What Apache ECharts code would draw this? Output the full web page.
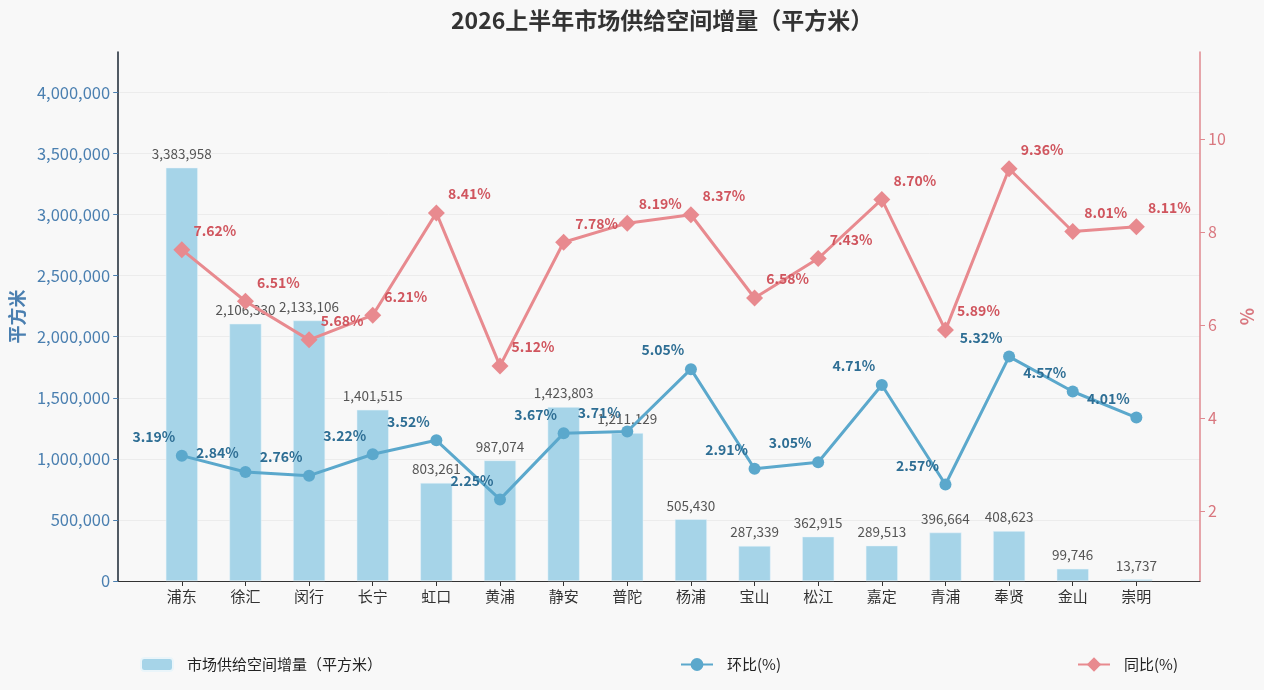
<!DOCTYPE html>
<html>
<head>
<meta charset="utf-8">
<script src="https://cdn.jsdelivr.net/npm/echarts@6/dist/echarts.min.js"></script>
<style>
  html, body { margin: 0; padding: 0; background: #f8f8f8; }
  #main { width: 1264px; height: 690px; }
</style>
</head>
<body>
<div id="main"></div>
<script>
// 区域
var categories = ['浦东', '徐汇', '闵行', '长宁', '虹口', '黄浦', '静安', '普陀',
                  '杨浦', '宝山', '松江', '嘉定', '青浦', '奉贤', '金山', '崇明'];
// 市场供给空间增量（平方米）
var supply = [3383958, 2106330, 2133106, 1401515, 803261, 987074, 1423803, 1211129,
              505430, 287339, 362915, 289513, 396664, 408623, 99746, 13737];
// 环比(%)
var mom = [3.19, 2.84, 2.76, 3.22, 3.52, 2.25, 3.67, 3.71,
           5.05, 2.91, 3.05, 4.71, 2.57, 5.32, 4.57, 4.01];
// 同比(%)
var yoy = [7.62, 6.51, 5.68, 6.21, 8.41, 5.12, 7.78, 8.19,
           8.37, 6.58, 7.43, 8.70, 5.89, 9.36, 8.01, 8.11];
// 刻度
var leftTicks = [0, 500000, 1000000, 1500000, 2000000, 2500000, 3000000, 3500000, 4000000];
var rightTicks = [2, 4, 6, 8, 10];

var FONT = 'Noto Sans CJK SC';

// 两端各留一个空位
function pad(arr) { return [null].concat(arr, [null]); }
var xData = [''].concat(categories, ['']);

var myChart = echarts.init(document.getElementById('main'));

var legendText = { fontFamily: FONT, fontSize: 15, color: '#222', padding: [0, 0, 0, 9] };

var option = {
    backgroundColor: '#f8f8f8',
    textStyle: { fontFamily: FONT },
    title: {
        text: '2026上半年市场供给空间增量（平方米）',
        left: 446,
        top: 4,
        textStyle: { fontFamily: FONT, fontSize: 23, fontWeight: 'bold', color: '#333' }
    },
    legend: [
        {
            data: ['市场供给空间增量（平方米）'],
            left: 140, top: 657, padding: 0,
            itemWidth: 32, itemHeight: 13, itemGap: 10,
            textStyle: legendText
        },
        {
            data: [{ name: '环比(%)', itemStyle: { color: '#5ba8cc' } }],
            left: 680, top: 657, padding: 0,
            itemWidth: 32, itemHeight: 16,
            textStyle: legendText
        },
        {
            data: [{ name: '同比(%)', itemStyle: { color: '#e88a8f' } }],
            left: 1077, top: 657, padding: 0,
            itemWidth: 32, itemHeight: 18,
            textStyle: legendText
        }
    ],
    grid: { left: 117, right: 63, top: 52, bottom: 109 },
    xAxis: {
        type: 'category',
        data: xData,
        boundaryGap: false,
        axisLine: { lineStyle: { color: '#333', width: 1.2 } },
        axisTick: {
            lineStyle: { color: '#333' },
            interval: function (i) { return i > 0 && i < xData.length - 1; }
        },
        axisLabel: {
            fontFamily: FONT, fontSize: 15, color: '#333', margin: 8,
            interval: 0
        },
        splitLine: { show: false }
    },
    yAxis: [
        {
            type: 'value',
            min: 0,
            max: 4331466,
            name: '平方米',
            nameLocation: 'middle',
            nameGap: 90,
            nameTextStyle: { fontFamily: FONT, fontSize: 18, fontWeight: 'bold', color: '#4a7fb0' },
            axisLine: { show: true, lineStyle: { color: '#1a2633', width: 1.5 } },
            axisTick: { show: true, customValues: leftTicks, lineStyle: { color: '#4a7fb0' } },
            axisLabel: {
                fontFamily: FONT, fontSize: 16.5, color: '#4a7fb0',
                customValues: leftTicks,
                formatter: function (v) { return v.toLocaleString('en-US'); }
            },
            splitLine: { show: true, lineStyle: { color: '#ececec', width: 1 } }
        },
        {
            type: 'value',
            min: 0.495,
            max: 11.87,
            position: 'right',
            name: '%',
            nameLocation: 'middle',
            nameGap: 38,
            nameTextStyle: { fontFamily: FONT, fontSize: 18, fontWeight: 'bold', color: '#d9777f' },
            axisLine: { show: true, lineStyle: { color: '#e08a90', width: 1.5 } },
            axisTick: { show: true, customValues: rightTicks, lineStyle: { color: '#e08a90' } },
            axisLabel: {
                fontFamily: FONT, fontSize: 16, color: '#d9777f',
                customValues: rightTicks
            },
            splitLine: { show: false }
        }
    ],
    series: [
        {
            name: '市场供给空间增量（平方米）',
            type: 'bar',
            yAxisIndex: 0,
            data: pad(supply),
            barWidth: 32,
            itemStyle: { color: '#a6d4e8', borderColor: '#eaf5fa', borderWidth: 0.5 },
            label: {
                show: true,
                position: 'top',
                distance: 7,
                fontFamily: FONT,
                fontSize: 13.5,
                color: '#555',
                formatter: function (p) { return p.value.toLocaleString('en-US'); }
            },
            z: 1
        },
        {
            name: '环比(%)',
            type: 'line',
            yAxisIndex: 1,
            data: pad(mom),
            symbol: 'circle',
            symbolSize: 12,
            lineStyle: { color: '#5ba8cc', width: 3 },
            itemStyle: { color: '#5ba8cc' },
            label: {
                show: true,
                position: 'inside',
                offset: [-28, -19],
                fontFamily: FONT,
                fontSize: 14,
                fontWeight: 'bold',
                color: '#2e6e94',
                formatter: function (p) { return p.value.toFixed(2) + '%'; }
            },
            z: 3
        },
        {
            name: '同比(%)',
            type: 'line',
            yAxisIndex: 1,
            data: pad(yoy),
            symbol: 'diamond',
            symbolSize: 17,
            lineStyle: { color: '#e88a8f', width: 3 },
            itemStyle: { color: '#e88a8f' },
            label: {
                show: true,
                position: 'inside',
                offset: [33, -19],
                fontFamily: FONT,
                fontSize: 14,
                fontWeight: 'bold',
                color: '#d0555e',
                formatter: function (p) { return p.value.toFixed(2) + '%'; }
            },
            z: 3
        }
    ]
};

myChart.setOption(option, true);
</script>
</body>
</html>
